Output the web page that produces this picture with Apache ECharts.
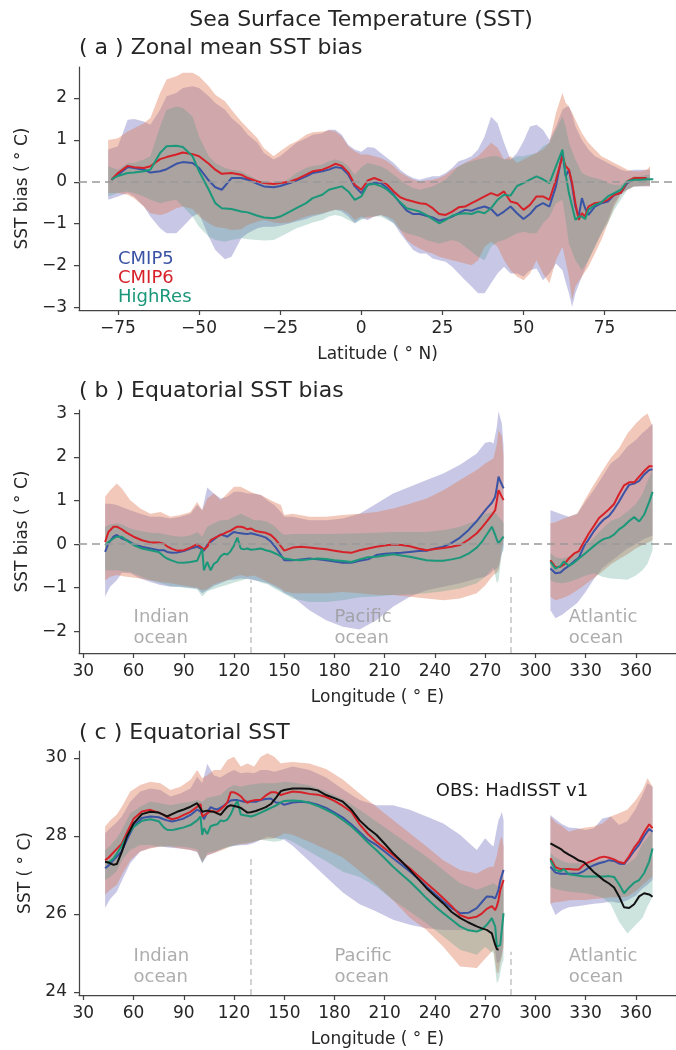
<!DOCTYPE html>
<html>
<head>
<meta charset="utf-8">
<script src="https://cdn.jsdelivr.net/npm/echarts@6.0.0/dist/echarts.min.js"></script>
<style>
html, body { margin: 0; padding: 0; background: #fff; }
#chart { width: 676px; height: 1050px; }
</style>
</head>
<body>
<div id="chart"></div>
<script>
// (a) zonal mean bias, lines
var latA = [-77,-75,-72,-70,-67,-65,-62,-60,-57,-55,-52,-50,-47,-45,-43,-40,-37,-35,-32,-30,-27,-25,-22,-20,-17,-15,-12,-10,-8,-6,-4,-2,0,
  2,4,6,8,10,12,14,16,18,20,22,24,26,28,30,32,34,36,38,40,42,44,46,48,50,52,54,56,58,60,
  62,63,64,65,66,67,68,69,70,
  72,74,76,78,80,82,84,86,88,90];
var c5A = [0.05,0.17,0.35,0.33,0.29,0.22,0.25,0.30,0.43,0.47,0.45,0.33,0.03,-0.13,-0.19,0.09,0.09,0.05,-0.05,-0.11,-0.13,-0.10,-0.03,0.03,0.13,0.21,0.25,0.29,0.35,0.33,0.17,-0.11,-0.27,
  -0.07,-0.02,-0.03,-0.15,-0.31,-0.51,-0.69,-0.77,-0.77,-0.81,-0.85,-0.93,-0.89,-0.83,-0.75,-0.67,-0.69,-0.63,-0.59,-0.65,-0.81,-0.71,-0.59,-0.75,-0.89,-0.77,-0.59,-0.51,-0.59,-0.11,
  0.69,0.13,0.29,-0.11,-0.59,-0.83,-0.39,-0.63,-0.79,
  -0.59,-0.51,-0.47,-0.31,-0.26,-0.03,0.06,0.09,0.06,null];
var c6A = [0.05,0.21,0.38,0.35,0.33,0.37,0.54,0.59,0.65,0.70,0.66,0.61,0.43,0.29,0.19,0.21,0.17,0.09,0.01,-0.03,-0.05,-0.03,0.00,0.06,0.17,0.25,0.29,0.35,0.43,0.38,0.22,-0.07,-0.19,
  0.03,0.09,0.03,-0.07,-0.23,-0.37,-0.43,-0.47,-0.51,-0.53,-0.63,-0.77,-0.79,-0.71,-0.61,-0.59,-0.51,-0.43,-0.35,-0.27,-0.33,-0.23,-0.47,-0.51,-0.67,-0.55,-0.35,-0.35,-0.43,0.05,
  0.61,0.37,0.29,-0.03,-0.51,-0.91,-0.75,-0.83,-0.59,
  -0.51,-0.49,-0.43,-0.31,-0.26,0.01,0.09,0.09,0.09,null];
var hrA = [0.06,0.14,0.21,0.22,0.25,0.29,0.69,0.85,0.86,0.83,0.61,0.25,-0.19,-0.51,-0.63,-0.65,-0.71,-0.73,-0.81,-0.85,-0.87,-0.83,-0.71,-0.63,-0.51,-0.39,-0.31,-0.19,-0.15,-0.11,-0.23,-0.43,-0.35,
  -0.07,-0.05,-0.10,-0.19,-0.33,-0.49,-0.63,-0.67,-0.71,-0.79,-0.89,-0.99,-0.91,-0.81,-0.77,-0.75,-0.77,-0.71,-0.75,-0.63,-0.43,-0.31,-0.33,-0.10,-0.03,0.05,0.13,0.06,-0.03,0.37,
  0.77,0.17,-0.27,-0.59,-0.91,-0.83,-0.83,-0.89,-0.67,
  -0.55,-0.49,-0.35,-0.27,-0.19,0.01,0.05,0.05,0.06,0.06];

// (a) spread bands
var latBandA = [-78,-75,-72,-70,-67,-65,-62,-60,-57,-55,-52,-50,-47,-45,-42,-40,-37,-35,-32,-30,-27,-25,-22,-20,-17,-15,-12,-10,-8,-6,-4,-2,0,
  2,4,6,8,10,12,14,16,18,20,22,24,26,28,30,32,34,36,38,40,42,44,46,48,50,52,54,56,58,60,62,
  63,64,65,66,
  68,70,72,74,76,78,80,82,84,86,88,89];
var c5HiA = [0.77,0.85,1.48,1.50,1.44,1.36,1.72,2.04,2.12,2.24,2.28,2.24,2.04,1.88,1.72,1.52,1.32,1.12,0.93,0.69,0.53,0.61,0.80,0.93,1.04,1.12,1.16,1.24,1.24,1.12,0.88,0.77,0.72,
  0.83,0.81,0.69,0.57,0.45,0.29,0.17,0.09,0.05,0.09,0.13,0.13,0.21,0.33,0.49,0.54,0.61,0.77,1.08,1.55,1.40,0.93,0.53,0.69,0.97,1.32,1.36,1.24,1.00,1.32,1.72,
  1.78,1.80,1.60,1.32,
  1.00,0.77,0.61,0.53,0.45,0.37,0.29,0.25,0.29,0.29,0.29,0.29];
var c5LoA = [-0.43,-0.35,-0.27,-0.35,-0.59,-0.83,-1.11,-1.23,-1.23,-1.07,-0.83,-0.75,-1.31,-1.63,-1.85,-1.79,-1.35,-1.23,-1.11,-1.07,-1.07,-1.05,-0.99,-0.95,-0.89,-0.83,-0.77,-0.71,-0.67,-0.71,-0.83,-0.99,-0.87,
  -0.91,-0.83,-0.79,-0.87,-0.99,-1.23,-1.43,-1.63,-1.71,-1.71,-1.83,-1.87,-1.91,-2.03,-2.19,-2.35,-2.50,-2.66,-2.66,-2.42,-2.19,-2.03,-2.19,-2.19,-2.26,-2.11,-2.07,-2.35,-2.19,-1.95,-2.11,
  -2.40,-2.66,-2.98,-2.66,
  -2.26,-1.87,-1.55,-1.23,-0.91,-0.51,-0.27,-0.19,-0.11,-0.11,-0.11,-0.11];
var c6HiA = [1.00,1.04,1.20,1.28,1.40,1.52,2.12,2.44,2.52,2.60,2.60,2.52,2.28,2.08,1.92,1.72,1.44,1.28,1.04,0.80,0.61,0.73,0.89,0.96,1.12,1.18,1.20,1.23,1.20,1.08,0.85,0.73,0.65,
  0.65,0.61,0.57,0.49,0.37,0.22,0.13,0.05,0.01,0.03,0.05,0.09,0.17,0.29,0.37,0.45,0.53,0.61,0.77,0.93,0.81,0.53,0.61,0.45,0.53,0.61,0.69,0.77,0.93,1.64,2.12,
  1.88,1.80,1.65,1.48,
  1.16,0.93,0.77,0.61,0.53,0.45,0.37,0.29,0.25,0.25,0.29,0.37];
var c6LoA = [-0.27,-0.27,-0.31,-0.39,-0.59,-0.75,-0.79,-0.75,-0.63,-0.59,-0.65,-0.83,-0.99,-1.07,-1.11,-1.15,-1.13,-1.03,-0.95,-0.91,-0.97,-0.99,-0.97,-0.91,-0.83,-0.79,-0.75,-0.71,-0.67,-0.67,-0.75,-0.91,-0.83,
  -0.87,-0.83,-0.79,-0.83,-0.91,-1.15,-1.39,-1.51,-1.59,-1.67,-1.71,-1.79,-1.83,-1.87,-1.91,-1.95,-1.99,-1.87,-1.55,-1.43,-1.55,-1.87,-2.11,-2.26,-2.35,-2.19,-1.87,-2.19,-2.42,-1.87,-1.55,
  -1.90,-2.26,-2.82,-2.50,
  -2.26,-2.03,-1.71,-1.39,-0.99,-0.59,-0.31,-0.19,-0.11,-0.10,-0.10,-0.10];
var hrHiA = [0.37,0.29,0.45,0.45,0.53,0.61,1.32,1.72,1.80,1.76,1.56,1.08,0.61,0.45,0.33,0.29,0.25,0.17,0.05,-0.03,-0.07,-0.05,0.09,0.21,0.33,0.38,0.41,0.49,0.53,0.49,0.37,0.17,0.35,
  0.45,0.41,0.37,0.29,0.17,0.05,-0.07,-0.15,-0.19,-0.15,-0.11,-0.03,0.05,0.21,0.37,0.45,0.49,0.53,0.57,0.61,0.61,0.53,0.53,0.61,0.61,0.65,0.69,0.85,0.93,1.24,1.56,
  1.32,0.93,0.73,0.53,
  0.21,0.13,0.09,0.05,-0.03,-0.07,-0.07,0.05,0.13,0.13,0.17,0.17];
var hrLoA = [-0.35,-0.27,-0.23,-0.27,-0.35,-0.43,-0.51,-0.47,-0.43,-0.59,-0.83,-1.07,-1.31,-1.39,-1.43,-1.39,-1.35,-1.37,-1.39,-1.40,-1.39,-1.31,-1.19,-1.11,-1.03,-0.97,-0.91,-0.83,-0.79,-0.83,-0.91,-0.99,-0.91,
  -0.83,-0.83,-0.83,-0.91,-0.99,-1.15,-1.23,-1.27,-1.31,-1.39,-1.43,-1.47,-1.43,-1.39,-1.43,-1.55,-1.67,-1.79,-1.87,-1.55,-1.43,-1.39,-1.31,-1.23,-1.19,-1.23,-1.23,-0.99,-0.83,-0.51,-0.43,
  -0.91,-1.47,-1.67,-1.87,
  -2.11,-1.87,-1.55,-1.23,-0.99,-0.67,-0.43,-0.19,-0.11,-0.10,-0.08,-0.08];

// (b), (c) equatorial lines
var lonLine = [43,45,48,50,53,56,60,65,70,75, 78,80,83,86,90,94,98,100,101,102,
  104,106,108,110,112,114,116,118,120,122, 124,126,128,130,133,136,139,142,145,148,
  150,155,160,165,170,175,180,185,190,195, 200,205,210,215,220,225,230,235,240,245,
  250,255,260,265,268,271,274,276,277,278, 279,281, 295,
  309,312,315,317,320,323,326,329,332,335, 338,341,344,347,350,353,356,359,362,365, 368,370];
var c6B = [0.05,0.28,0.40,0.40,0.34,0.26,0.17,0.09,0.04,0.04,
  0.01,-0.05,-0.11,-0.15,-0.14,-0.08,0.00,-0.06,-0.09,-0.12,
  -0.06,0.09,0.13,0.17,0.21,0.24,0.28,0.31,0.36,0.40,
  0.40,0.38,0.34,0.36,0.30,0.28,0.26,0.21,0.10,-0.05,
  -0.15,-0.08,-0.06,-0.08,-0.10,-0.12,-0.15,-0.18,-0.20,-0.14,
  -0.10,-0.06,-0.03,-0.01,-0.02,-0.05,-0.10,-0.14,-0.11,-0.09,
  -0.06,-0.02,0.10,0.25,0.38,0.52,0.67,0.78,1.00,1.24,
  1.28,1.01, null,
  -0.37,-0.53,-0.52,-0.47,-0.33,-0.22,-0.16,0.05,0.25,0.42,
  0.60,0.70,0.80,0.92,1.15,1.35,1.42,1.42,1.55,1.68,
  1.79,1.79];
var c5B = [-0.18,0.02,0.17,0.21,0.13,0.09,0.00,-0.06,-0.10,-0.14,
  -0.14,-0.18,-0.20,-0.19,-0.16,-0.10,-0.06,-0.10,-0.12,-0.15,
  -0.02,0.05,0.11,0.17,0.22,0.20,0.17,0.23,0.28,0.26,
  0.25,0.24,0.23,0.25,0.22,0.19,0.15,0.06,-0.08,-0.25,
  -0.37,-0.37,-0.35,-0.33,-0.35,-0.37,-0.40,-0.43,-0.43,-0.38,
  -0.35,-0.25,-0.22,-0.21,-0.20,-0.18,-0.16,-0.15,-0.10,-0.06,
  0.03,0.15,0.32,0.53,0.68,0.82,0.95,1.09,1.30,1.55,
  1.45,1.28, null,
  -0.56,-0.67,-0.65,-0.58,-0.50,-0.40,-0.31,-0.05,0.12,0.30,
  0.45,0.57,0.65,0.80,0.98,1.18,1.36,1.39,1.45,1.60,
  1.70,1.72];
var hrB = [-0.02,0.05,0.13,0.17,0.17,0.08,-0.02,-0.10,-0.14,-0.18,
  -0.28,-0.33,-0.38,-0.42,-0.43,-0.41,-0.38,-0.20,-0.10,-0.60,
  -0.41,-0.60,-0.45,-0.40,-0.28,-0.22,-0.24,-0.16,-0.03,0.15,
  -0.10,-0.12,-0.10,-0.13,-0.12,-0.10,-0.14,-0.17,-0.22,-0.28,
  -0.33,-0.36,-0.37,-0.35,-0.33,-0.34,-0.37,-0.39,-0.41,-0.35,
  -0.30,-0.29,-0.26,-0.23,-0.26,-0.29,-0.33,-0.37,-0.38,-0.38,
  -0.35,-0.31,-0.22,-0.08,0.05,0.22,0.40,0.21,0.10,0.02,
  0.02,0.17, null,
  -0.41,-0.56,-0.50,-0.40,-0.50,-0.43,-0.33,-0.24,-0.14,-0.04,
  0.05,0.12,0.15,0.22,0.34,0.42,0.53,0.62,0.52,0.68,
  0.97,1.20];
var c6C = [27.38,27.44,27.58,27.67,27.80,28.08,28.44,28.63,28.67,28.60,
  28.54,28.48,28.43,28.46,28.54,28.62,28.75,28.82,28.50,28.45,
  28.58,28.65,28.63,28.62,28.68,28.76,28.86,29.12,29.12,29.08,
  29.02,28.92,28.85,28.90,28.92,28.93,29.04,29.12,29.12,29.05,
  29.08,29.14,29.12,29.08,29.06,29.00,28.90,28.77,28.62,28.30,
  28.05,27.85,27.68,27.51,27.34,27.17,26.98,26.79,26.60,26.40,
  26.20,25.97,25.89,25.93,26.01,26.13,26.20,26.10,26.20,26.36,
  26.60,26.87, null,
  27.43,27.20,27.15,27.15,27.15,27.14,27.14,27.27,27.33,27.38,
  27.44,27.47,27.44,27.40,27.33,27.30,27.48,27.70,27.87,28.10,
  28.30,28.20];
var c5C = [27.17,27.24,27.38,27.47,27.62,27.90,28.24,28.46,28.50,28.48,
  28.43,28.40,28.37,28.40,28.45,28.54,28.68,28.62,28.54,28.43,
  28.60,28.74,28.70,28.68,28.73,28.78,28.85,28.91,28.92,28.92,
  28.90,28.88,28.88,28.88,28.88,28.92,28.95,28.96,28.86,28.85,
  28.80,28.86,28.88,28.86,28.80,28.72,28.60,28.47,28.30,28.10,
  27.90,27.77,27.60,27.43,27.26,27.09,26.90,26.70,26.51,26.32,
  26.15,26.02,26.03,26.15,26.30,26.45,26.44,26.40,26.50,26.62,
  26.85,27.13, null,
  27.21,27.06,27.03,27.03,27.03,27.03,27.04,27.10,27.19,27.25,
  27.30,27.33,27.38,27.36,27.29,27.28,27.44,27.62,27.78,28.00,
  28.18,28.11];
var hrC = [27.34,27.31,27.42,27.55,27.75,28.00,28.23,28.39,28.43,28.38,
  28.22,28.16,28.15,28.18,28.22,28.28,28.40,28.50,28.03,28.20,
  28.05,28.25,28.28,28.30,28.40,28.38,28.42,28.55,28.75,28.90,
  28.55,28.53,28.52,28.50,28.54,28.60,28.66,28.72,28.78,28.86,
  28.90,28.91,28.90,28.85,28.77,28.67,28.56,28.41,28.25,28.05,
  27.83,27.64,27.43,27.21,27.02,26.83,26.62,26.40,26.20,26.02,
  25.85,25.68,25.58,25.55,25.60,25.72,25.89,25.68,25.16,25.12,
  25.20,26.02, null,
  27.38,27.13,27.09,27.15,27.02,27.00,26.98,26.96,26.96,26.96,
  26.96,26.96,26.97,26.95,26.76,26.53,26.68,26.80,26.87,27.05,
  27.35,27.68];
var obsC = [27.34,27.32,27.26,27.28,27.60,27.98,28.32,28.56,28.62,28.60,
  28.54,28.50,28.56,28.62,28.68,28.75,28.84,28.70,28.62,28.64,
  28.65,28.63,28.62,28.58,28.54,28.65,28.75,28.79,28.77,28.75,
  28.72,28.66,28.60,28.61,28.64,28.69,28.74,28.82,28.98,29.15,
  29.18,29.22,29.22,29.21,29.17,29.05,28.97,28.88,28.68,28.40,
  28.20,28.03,27.80,27.56,27.35,27.13,26.90,26.66,26.46,26.27,
  26.05,25.90,25.78,25.68,25.63,25.59,25.50,25.21,25.10,25.08,
  null,null, null,
  27.81,27.74,27.67,27.60,27.52,27.45,27.37,27.33,27.20,27.07,
  26.97,26.86,26.78,26.68,26.45,26.17,26.15,26.25,26.45,26.53,
  26.50,26.44];

// (b), (c) spread bands
var lonBand = [43,46,50,53,58,64,70,76,82,88, 94,98,101,104,108,112,116,120,124,128,
  132,136,140,144,148,150,155, 165,175,185,195,205,215,225,235,245,255,
  265,270,273,275,277,278,279,280,281, 295,
  309,312,316,320,325,330,335,340,345,350,355,360,364,367,370];
var c5HiB = [0.93,0.93,0.90,0.85,0.78,0.70,0.63,0.63,0.59,0.63,
  0.70,0.90,0.78,1.30,1.16,1.05,1.09,1.20,1.20,1.16,
  1.16,1.13,1.00,0.90,0.74,0.63,0.63,
  0.55,0.55,0.59,0.70,0.93,1.16,1.32,1.47,1.62,1.82,
  2.08,2.33,2.35,2.31,2.70,3.05,2.90,2.77,2.24, null,
  0.78,0.74,0.68,0.63,0.70,0.98,1.25,1.55,1.85,2.00,2.24,2.39,2.55,2.65,2.77];
var c5LoB = [-1.21,-0.98,-0.83,-0.66,-0.67,-0.79,-0.87,-0.94,-0.98,-0.98,
  -1.00,-1.02,-1.13,-1.06,-0.96,-0.90,-0.83,-0.81,-0.79,-0.80,
  -0.83,-0.86,-0.90,-0.98,-1.06,-1.12,-1.21,
  -1.52,-1.75,-1.90,-1.96,-1.75,-1.44,-1.21,-1.06,-0.98,-0.90,
  -0.79,-0.75,-0.68,-0.60,-0.56,-0.52,-0.35,-0.21,-0.06, null,
  -1.52,-1.70,-1.62,-1.50,-1.35,-1.10,-0.80,-0.55,-0.40,-0.25,-0.10,0.00,0.10,0.15,0.20];
var c6HiB = [1.09,1.24,1.39,1.28,1.01,0.82,0.70,0.74,0.63,0.67,
  0.74,0.97,0.78,1.05,1.16,1.01,1.16,1.32,1.32,1.24,
  1.16,1.13,1.05,0.97,0.90,0.67,0.70,
  0.63,0.63,0.67,0.70,0.74,0.82,0.93,1.05,1.24,1.47,
  1.70,1.85,1.92,1.97,2.30,2.62,2.55,2.47,2.01, null,
  0.48,0.50,0.57,0.63,0.70,1.05,1.37,1.68,1.98,2.20,2.54,2.77,2.92,3.00,2.70];
var c6LoB = [-0.83,-0.75,-0.71,-0.73,-0.76,-0.79,-0.83,-0.87,-0.90,-0.94,
  -0.98,-1.00,-1.06,-1.03,-0.92,-0.87,-0.83,-0.75,-0.71,-0.75,
  -0.72,-0.79,-0.87,-0.94,-1.02,-1.08,-1.13,
  -1.13,-1.13,-1.10,-1.13,-1.17,-1.17,-1.21,-1.25,-1.29,-1.25,
  -1.13,-0.95,-0.80,-0.71,-0.65,-0.60,-0.40,-0.06,0.09, null,
  -1.21,-1.29,-1.24,-1.18,-1.06,-0.92,-0.78,-0.63,-0.47,-0.34,-0.23,-0.10,-0.02,0.03,0.09];
var hrHiB = [0.40,0.45,0.48,0.45,0.36,0.30,0.26,0.25,0.20,0.17,
  0.20,0.28,0.17,0.40,0.48,0.55,0.55,0.63,0.70,0.63,
  0.55,0.55,0.51,0.42,0.26,0.21,0.23,
  0.23,0.23,0.24,0.25,0.26,0.28,0.28,0.28,0.32,0.40,
  0.55,0.70,0.72,0.74,0.68,0.63,0.58,0.55,0.48, null,
  -0.21,-0.30,-0.33,-0.29,-0.20,-0.05,0.15,0.35,0.53,0.60,0.75,0.92,1.15,1.45,1.70];
var hrLoB = [-0.60,-0.60,-0.60,-0.62,-0.64,-0.74,-0.83,-0.90,-0.96,-0.99,
  -1.02,-1.04,-1.20,-1.08,-1.03,-0.98,-0.93,-0.88,-0.84,-0.79,
  -0.82,-0.88,-0.92,-1.02,-1.10,-1.14,-1.25,
  -1.33,-1.33,-1.29,-1.22,-1.20,-1.17,-1.15,-1.13,-1.08,-1.02,
  -0.90,-0.75,-0.62,-0.52,-0.90,-0.83,-0.50,-0.21,-0.14, null,
  -0.83,-0.88,-0.90,-0.87,-0.80,-0.72,-0.67,-0.75,-0.79,-0.80,-0.82,-0.72,-0.60,-0.45,-0.14];
var c5HiC = [28.07,28.20,28.35,28.50,28.88,29.14,29.22,29.18,29.01,29.09,
  29.22,29.52,29.35,29.85,29.55,29.50,29.61,29.69,29.61,29.63,
  29.61,29.69,29.69,29.65,29.69,29.72,29.78,
  29.69,29.50,29.20,28.92,28.79,28.79,28.67,28.50,28.32,28.03,
  27.64,27.94,27.80,27.73,28.20,28.41,28.50,28.62,28.41, null,
  28.54,28.43,28.30,28.22,28.20,28.15,28.20,28.45,28.50,28.28,28.38,28.70,29.05,29.35,29.26];
var c5LoC = [26.15,26.38,26.57,26.85,27.30,27.60,27.70,27.73,27.70,27.68,
  27.64,27.58,27.30,27.50,27.56,27.65,27.73,27.74,27.76,27.77,
  27.82,27.90,27.98,27.95,27.92,27.90,27.75,
  27.35,26.95,26.55,26.25,26.06,25.85,25.72,25.63,25.59,25.59,
  25.59,25.66,25.60,25.42,24.74,24.75,24.82,25.00,25.33, null,
  26.27,25.97,26.10,26.17,26.20,26.23,26.26,26.28,26.32,26.28,26.35,26.47,26.65,26.75,26.87];
var c6HiC = [28.24,28.40,28.55,28.75,29.14,29.31,29.39,29.35,29.18,29.26,
  29.44,29.69,29.48,29.56,29.69,29.69,29.95,30.03,29.78,29.86,
  29.78,30.03,30.12,30.03,29.86,29.88,29.90,
  29.86,29.72,29.45,29.09,28.75,28.41,28.07,27.73,27.38,27.13,
  27.04,27.15,27.21,27.21,27.50,27.73,27.90,27.98,27.73, null,
  28.50,28.35,28.25,28.11,28.17,28.22,28.24,28.32,28.50,28.58,28.68,28.92,29.18,29.48,29.26];
var c6LoC = [26.49,26.62,26.75,27.00,27.38,27.60,27.68,27.73,27.73,27.68,
  27.64,27.60,27.34,27.51,27.56,27.62,27.70,27.77,27.79,27.81,
  27.85,27.90,27.92,27.94,28.02,28.07,28.03,
  27.85,27.65,27.45,27.10,26.75,26.35,25.90,25.59,25.16,24.65,
  24.61,24.85,24.99,25.08,24.48,24.50,24.74,24.90,25.16, null,
  26.27,26.30,26.32,26.35,26.36,26.36,26.38,26.40,26.43,26.42,26.45,26.58,26.74,26.85,26.96];
var hrHiC = [27.64,27.75,27.95,28.15,28.58,28.75,28.88,28.84,28.79,28.84,
  28.88,28.92,28.88,28.98,29.01,29.05,29.22,29.31,29.26,29.31,
  29.33,29.35,29.35,29.35,29.37,29.39,29.37,
  29.30,29.15,28.95,28.67,28.37,28.07,27.77,27.47,27.13,26.79,
  26.62,26.70,26.75,26.79,26.72,26.70,26.85,27.04,26.87, null,
  27.56,27.45,27.36,27.30,27.30,27.30,27.32,27.38,27.38,27.25,27.28,27.45,27.80,27.95,28.15];
var hrLoC = [26.87,26.95,27.10,27.38,27.64,27.77,27.77,27.73,27.73,27.73,
  27.70,27.65,27.30,27.56,27.60,27.65,27.70,27.75,27.80,27.82,
  27.86,27.90,27.88,27.85,27.88,27.94,27.85,
  27.60,27.35,27.08,26.95,26.70,26.36,26.06,25.76,25.42,25.08,
  24.95,25.16,25.05,24.99,24.22,24.30,24.48,24.70,24.82, null,
  26.70,26.64,26.60,26.57,26.55,26.53,26.48,26.42,26.25,25.80,25.50,25.72,25.90,26.20,26.44];

// ticks and notes
var latTicks = [-75, -50, -25, 0, 25, 50, 75];
var lonTicks = [30, 60, 90, 120, 150, 180, 210, 240, 270, 300, 330, 360];
var biasTicksA = [-3, -2, -1, 0, 1, 2];
var biasTicksB = [-2, -1, 0, 1, 2, 3];
var sstTicks = [24, 26, 28, 30];
var oceans = ['Indian\nocean', 'Pacific\nocean', 'Atlantic\nocean'];
var oceanLon = [60, 180, 320];
var basinEdges = [130, 285];

var FONT = 'DejaVu Sans';
var INK = '#262626';
var AXIS = '#444';
var C5 = '#3a53a4', C6 = '#d62129', HR = '#1b977a', OBS = '#111';
var F5 = 'rgba(117,117,192,0.40)', F6 = 'rgba(220,118,80,0.40)', FH = 'rgba(72,155,138,0.28)';

function pairs(xs, ys) {
    return xs.map(function (x, i) { return [x, ys[i] == null ? null : ys[i]]; });
}
function minus(v) { return String(v).replace('-', '\u2212'); }

// shaded model spread: one polygon per unbroken run of the lo/hi arrays
function band(g, xs, lo, hi, color) {
    return {
        type: 'custom', xAxisIndex: g, yAxisIndex: g, silent: true, z: 1, clip: true,
        data: xs.map(function (x, i) { return [x, lo[i], hi[i]]; }),
        encode: { x: 0, y: [1, 2] },
        renderItem: function (params, api) {
            if (params.dataIndex !== 0) return null;
            var runs = [], top = [], bot = [];
            for (var i = 0; i <= xs.length; i++) {
                if (i < xs.length && lo[i] != null && hi[i] != null) {
                    top.push(api.coord([xs[i], hi[i]]));
                    bot.push(api.coord([xs[i], lo[i]]));
                } else if (top.length) {
                    runs.push(top.concat(bot.reverse()));
                    top = []; bot = [];
                }
            }
            return {
                type: 'group',
                children: runs.map(function (pts) {
                    return { type: 'polygon', shape: { points: pts }, style: { fill: color } };
                })
            };
        }
    };
}
function line(g, name, xs, ys, color) {
    return { type: 'line', name: name, xAxisIndex: g, yAxisIndex: g, data: pairs(xs, ys), symbol: 'none',
             lineStyle: { color: color, width: 2 }, itemStyle: { color: color }, silent: true, z: 3 };
}
function zeroLine() {
    return { silent: true, symbol: 'none', label: { show: false },
             lineStyle: { color: '#999', type: [8, 5], width: 1.5 }, data: [{ yAxis: 0 }] };
}
function notes(g, yText, yMin, tops) {
    return {
        type: 'scatter', xAxisIndex: g, yAxisIndex: g, symbolSize: 0, silent: true, z: 4,
        data: oceans.map(function (o, i) { return { name: o, value: [oceanLon[i], yText] }; }),
        label: { show: true, position: 'right', distance: 0, formatter: '{b}', color: '#999',
                 fontFamily: FONT, fontSize: 18, lineHeight: 21, align: 'left' },
        markLine: { silent: true, symbol: 'none', label: { show: false },
                    lineStyle: { color: '#c4c4c4', type: [6, 4], width: 1.5 },
                    data: basinEdges.map(function (x, i) { return [{ coord: [x, yMin] }, { coord: [x, tops[i]] }]; }) }
    };
}
function xAx(g, min, max, ticks, name) {
    return {
        type: 'value', gridIndex: g, min: min, max: max, name: name, nameLocation: 'middle', nameGap: 36,
        nameTextStyle: { fontFamily: FONT, fontSize: 17, color: INK },
        axisLine: { show: true, onZero: false, lineStyle: { color: AXIS, width: 1.25 } },
        axisTick: { show: true, customValues: ticks, length: 5, lineStyle: { color: AXIS, width: 1.25 } },
        axisLabel: { customValues: ticks, margin: 10, fontFamily: FONT, fontSize: 17, color: INK, formatter: minus },
        splitLine: { show: false }
    };
}
function yAx(g, min, max, ticks, name) {
    return {
        type: 'value', gridIndex: g, min: min, max: max, name: name, nameLocation: 'middle', nameGap: 45,
        nameTextStyle: { fontFamily: FONT, fontSize: 17, color: INK },
        axisLine: { show: true, onZero: false, lineStyle: { color: AXIS, width: 1.25 } },
        axisTick: { show: true, customValues: ticks, length: 5, lineStyle: { color: AXIS, width: 1.25 } },
        axisLabel: { customValues: ticks, margin: 12, fontFamily: FONT, fontSize: 17, color: INK, formatter: minus },
        splitLine: { show: false }
    };
}
function text(x, y, s, size, color, align) {
    return { type: 'text', x: x, y: y, silent: true,
             style: { text: s, fill: color, fontSize: size, fontFamily: FONT,
                      textAlign: align, align: align, textVerticalAlign: 'middle', verticalAlign: 'middle' } };
}

var myChart = echarts.init(document.getElementById('chart'), null, { renderer: 'canvas' });

var lineA = [line(0, 'CMIP5', latA, c5A, C5), line(0, 'CMIP6', latA, c6A, C6), line(0, 'HighRes', latA, hrA, HR)];
var lineB = [line(1, 'CMIP5', lonLine, c5B, C5), line(1, 'CMIP6', lonLine, c6B, C6), line(1, 'HighRes', lonLine, hrB, HR)];
lineA[2].markLine = zeroLine();
lineB[2].markLine = zeroLine();

var series = [
    band(0, latBandA, c5LoA, c5HiA, F5),
    band(0, latBandA, c6LoA, c6HiA, F6),
    band(0, latBandA, hrLoA, hrHiA, FH),
    band(1, lonBand, c5LoB, c5HiB, F5),
    band(1, lonBand, c6LoB, c6HiB, F6),
    band(1, lonBand, hrLoB, hrHiB, FH),
    band(2, lonBand, c5LoC, c5HiC, F5),
    band(2, lonBand, c6LoC, c6HiC, F6),
    band(2, lonBand, hrLoC, hrHiC, FH)
].concat(lineA, lineB, [
    line(2, 'CMIP5', lonLine, c5C, C5), line(2, 'CMIP6', lonLine, c6C, C6), line(2, 'HighRes', lonLine, hrC, HR),
    line(2, 'OBS', lonLine, obsC, OBS),
    notes(1, -1.92, -2.5, [-0.83, -0.69]),
    notes(2, 24.64, 23.92, [27.51, 25.03])
]);

var option = {
    animation: false,
    backgroundColor: '#fff',
    textStyle: { fontFamily: FONT },
    grid: [
        { left: 79, top: 67, width: 597, height: 243, outerBoundsMode: 'none' },
        { left: 79, top: 410, width: 597, height: 243, outerBoundsMode: 'none' },
        { left: 79, top: 751, width: 597, height: 244, outerBoundsMode: 'none' }
    ],
    xAxis: [
        xAx(0, -87, 97, latTicks, 'Latitude ( \u00b0 N)'),
        xAx(1, 27.4, 384, lonTicks, 'Longitude ( \u00b0 E)'),
        xAx(2, 27.4, 384, lonTicks, 'Longitude ( \u00b0 E)')
    ],
    yAxis: [
        yAx(0, -3.06, 2.74, biasTicksA, 'SST bias ( \u00b0 C)'),
        yAx(1, -2.5, 3.08, biasTicksB, 'SST bias ( \u00b0 C)'),
        yAx(2, 23.92, 30.18, sstTicks, 'SST ( \u00b0 C)')
    ],
    graphic: [
        text(361, 20, 'Sea Surface Temperature (SST)', 22, INK, 'center'),
        text(79, 48, '( a ) Zonal mean SST bias', 22, INK, 'left'),
        text(79, 391, '( b ) Equatorial SST bias', 22, INK, 'left'),
        text(79, 733, '( c ) Equatorial SST', 22, INK, 'left'),
        text(118, 259, 'CMIP5', 18, C5, 'left'),
        text(118, 278, 'CMIP6', 18, C6, 'left'),
        text(118, 297, 'HighRes', 18, HR, 'left'),
        text(512, 791, 'OBS: HadISST v1', 18, '#1a1a1a', 'center')
    ],
    series: series
};
myChart.setOption(option);
</script>
</body>
</html>
